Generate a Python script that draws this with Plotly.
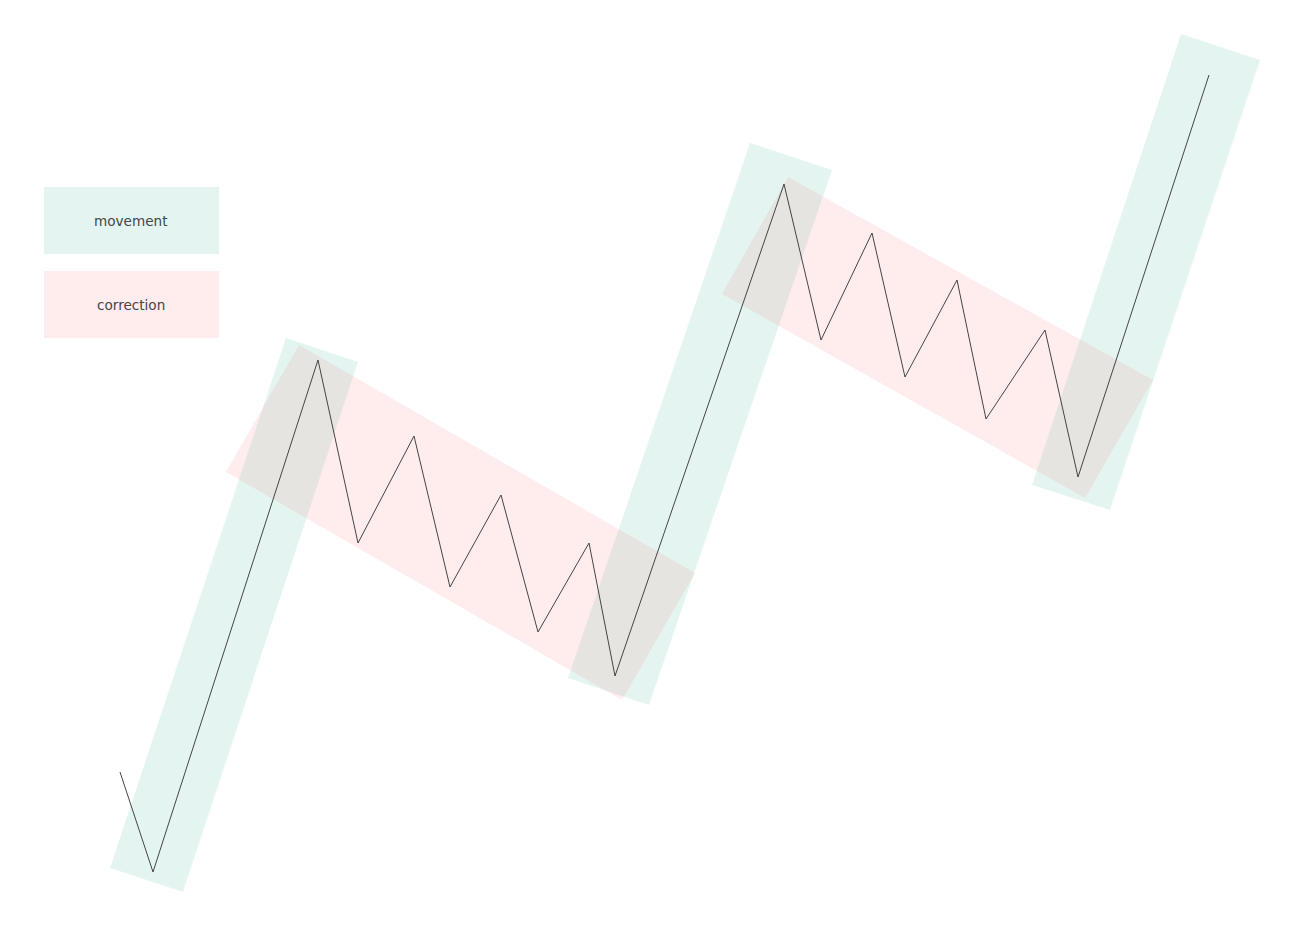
import plotly.graph_objects as go

# Zigzag price path (x, y values; y grows upward)
path_x = [120, 153, 318, 358, 414, 450, 501, 538, 589, 615, 784, 821, 872, 905, 957, 986, 1045, 1078, 1209]
path_y = [162, 62, 574, 391, 498, 347, 439, 302, 391, 258, 750, 594, 701, 557, 654, 515, 604, 457, 859]

# Movement channels (corner x / y)
move_names = ["movement 1", "movement 2", "movement 3"]
move_x = [[110, 183, 358, 286], [568, 649, 832, 750], [1032, 1110, 1260, 1181]]
move_y = [[66, 42, 572, 596], [256, 229, 764, 791], [449, 424, 874, 900]]

# Correction channels (corner x / y)
corr_names = ["correction 1", "correction 2"]
corr_x = [[226, 299, 695, 622], [722, 788, 1153, 1085]]
corr_y = [[462, 589, 361, 234], [640, 757, 554, 436]]

legend_labels = ["movement", "correction"]

# page offset (browser body margin) compensation
OFF = 8
W, H = 1304 - OFF, 934 - OFF
teal = "rgba(0,160,125,0.105)"
pink = "rgba(255,80,90,0.10)"

fig = go.Figure()
for nm, xs, ys in zip(move_names, move_x, move_y):
    fig.add_trace(go.Scatter(x=xs + xs[:1], y=ys + ys[:1], fill="toself", fillcolor=teal,
                             mode="lines", line=dict(width=0, color="rgba(0,0,0,0)"),
                             name=nm, hoverinfo="skip", showlegend=False))
for nm, xs, ys in zip(corr_names, corr_x, corr_y):
    fig.add_trace(go.Scatter(x=xs + xs[:1], y=ys + ys[:1], fill="toself", fillcolor=pink,
                             mode="lines", line=dict(width=0, color="rgba(0,0,0,0)"),
                             name=nm, hoverinfo="skip", showlegend=False))
fig.add_trace(go.Scatter(x=path_x, y=path_y, mode="lines",
                         line=dict(color="#444444", width=1), name="price", showlegend=False))

# custom legend boxes
legend_colors = [teal, pink]
box_tops = [747, 663]
for lab, col, top in zip(legend_labels, legend_colors, box_tops):
    fig.add_shape(type="rect", xref="x", yref="y", x0=44, x1=219, y0=top - 67, y1=top,
                  fillcolor=col, line=dict(width=0), layer="below")
    fig.add_annotation(x=131, y=top - 33.5, xref="x", yref="y", text=lab, showarrow=False,
                       font=dict(family="DejaVu Sans, sans-serif", size=13.6, color="#444444"))

fig.update_layout(width=W, height=H, margin=dict(l=0, r=0, t=0, b=0),
                  paper_bgcolor="white", plot_bgcolor="white", showlegend=False)
fig.update_xaxes(range=[OFF, 1304], visible=False, showgrid=False, zeroline=False)
fig.update_yaxes(range=[0, 934 - OFF], visible=False, showgrid=False, zeroline=False)

fig.write_html("out.html")
